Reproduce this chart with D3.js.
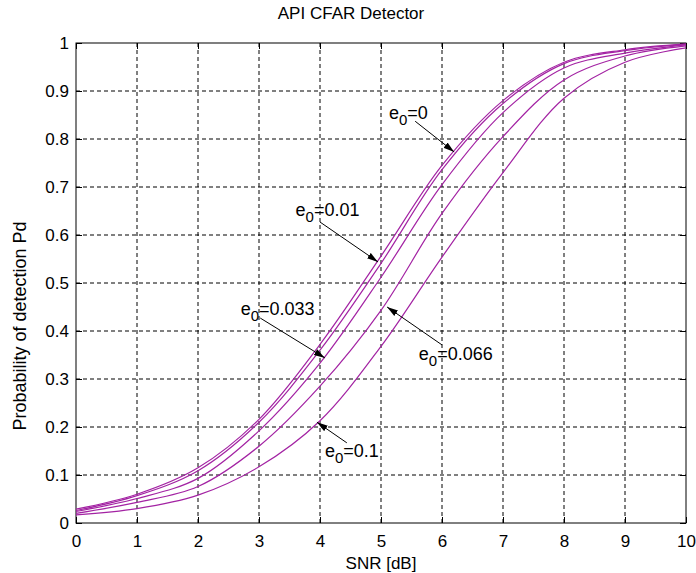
<!DOCTYPE html>
<html>
<head>
<meta charset="utf-8">
<script src="https://cdn.jsdelivr.net/npm/d3@7"></script>
<style>
  body { margin: 0; background: #fff; }
  svg text { font-family: "Liberation Sans", Arial, sans-serif; fill: #000; }
</style>
</head>
<body>
<div id="chart"></div>
<script>
// SNR points (dB) and Pd, one array per curve
const snr = [0, 1, 2, 3, 4, 5, 6, 7, 8, 9, 10];
const pdE0_000 = [0.029, 0.060, 0.115, 0.216, 0.372, 0.556, 0.745, 0.880, 0.960, 0.986, 0.998];
const pdE0_010 = [0.026, 0.057, 0.109, 0.210, 0.360, 0.541, 0.736, 0.874, 0.957, 0.984, 0.997];
const pdE0_033 = [0.024, 0.051, 0.093, 0.192, 0.333, 0.512, 0.705, 0.855, 0.948, 0.979, 0.996];
const pdE0_066 = [0.020, 0.043, 0.076, 0.160, 0.285, 0.443, 0.645, 0.805, 0.923, 0.973, 0.994];
const pdE0_100 = [0.017, 0.030, 0.058, 0.117, 0.213, 0.368, 0.554, 0.730, 0.885, 0.960, 0.990];

const xTicks = [0, 1, 2, 3, 4, 5, 6, 7, 8, 9, 10];
const yTicks = [0, 0.1, 0.2, 0.3, 0.4, 0.5, 0.6, 0.7, 0.8, 0.9, 1];

// annotation labels: value text, label anchor, arrow start and arrow tip (data units)
const noteText = ['0', '0.01', '0.033', '0.066', '0.1'];
const noteLabel = [[5.13, 0.842], [3.60, 0.640], [2.70, 0.433], [5.62, 0.340], [4.08, 0.1375]];
const noteFrom = [[5.56, 0.837], [4.00, 0.627], [3.02, 0.427], [6.00, 0.371], [4.44, 0.167]];
const noteTip = [[6.20, 0.773], [4.95, 0.544], [4.08, 0.344], [5.10, 0.450], [3.95, 0.210]];

const w = 696, h = 573;
const mLeft = 76, mRight = 686, mTop = 43, mBottom = 523;
const lineColor = '#a323a3';

const svg = d3.select('#chart').append('svg')
  .attr('width', w)
  .attr('height', h);

const x = d3.scaleLinear().domain([0, 10]).range([mLeft, mRight]);
const y = d3.scaleLinear().domain([0, 1]).range([mBottom, mTop]);

// dashed grid
svg.append('g').selectAll('line')
  .data(xTicks.slice(1, -1))
  .join('line')
  .attr('x1', d => x(d)).attr('x2', d => x(d))
  .attr('y1', mTop).attr('y2', mBottom)
  .attr('stroke', '#000').attr('stroke-dasharray', '4,3');

svg.append('g').selectAll('line')
  .data(yTicks.slice(1, -1))
  .join('line')
  .attr('x1', mLeft).attr('x2', mRight)
  .attr('y1', d => y(d)).attr('y2', d => y(d))
  .attr('stroke', '#000').attr('stroke-dasharray', '4,3');

// axes (ticks pointing inward, matlab style)
const xAxis = d3.axisBottom(x).tickValues(xTicks).tickSize(-6).tickPadding(12).tickFormat(d3.format('d'));
const yAxis = d3.axisLeft(y).tickValues(yTicks).tickSize(-6).tickPadding(7).tickFormat(d => d === 0 || d === 1 ? d : d.toFixed(1));

svg.append('g')
  .attr('transform', `translate(0,${mBottom})`)
  .call(xAxis)
  .call(g => g.select('.domain').remove());

svg.append('g')
  .attr('transform', `translate(${mLeft},0)`)
  .call(yAxis)
  .call(g => g.select('.domain').remove());

svg.append('g')
  .attr('transform', `translate(0,${mTop})`)
  .call(d3.axisTop(x).tickValues(xTicks).tickSize(-6).tickFormat(''))
  .call(g => g.select('.domain').remove());

svg.append('g')
  .attr('transform', `translate(${mRight},0)`)
  .call(d3.axisRight(y).tickValues(yTicks).tickSize(-6).tickFormat(''))
  .call(g => g.select('.domain').remove());

svg.selectAll('.tick text')
  .attr('font-size', '17px')
  .attr('font-family', '"Liberation Sans", Arial, sans-serif');

// plot box
svg.append('rect')
  .attr('x', mLeft).attr('y', mTop)
  .attr('width', mRight - mLeft).attr('height', mBottom - mTop)
  .attr('fill', 'none').attr('stroke', '#000');

// curves
const series = [pdE0_000, pdE0_010, pdE0_033, pdE0_066, pdE0_100];
const line = d3.line()
  .x((d, i) => x(snr[i]))
  .y(d => y(d))
  .curve(d3.curveCatmullRom.alpha(0.5));

svg.append('g').selectAll('path')
  .data(series)
  .join('path')
  .attr('d', line)
  .attr('fill', 'none')
  .attr('stroke', lineColor)
  .attr('stroke-width', 1.2);

// arrows
svg.append('defs').append('marker')
  .attr('id', 'arrow')
  .attr('viewBox', '0 0 10 6')
  .attr('refX', 10).attr('refY', 3)
  .attr('markerWidth', 11).attr('markerHeight', 7)
  .attr('markerUnits', 'userSpaceOnUse')
  .attr('orient', 'auto')
  .append('path')
  .attr('d', 'M0,0 L10,3 L0,6 Z')
  .attr('fill', '#000');

svg.append('g').selectAll('line')
  .data(noteText)
  .join('line')
  .attr('x1', (d, i) => x(noteFrom[i][0]))
  .attr('y1', (d, i) => y(noteFrom[i][1]))
  .attr('x2', (d, i) => x(noteTip[i][0]))
  .attr('y2', (d, i) => y(noteTip[i][1]))
  .attr('stroke', '#000')
  .attr('stroke-width', 1)
  .attr('marker-end', 'url(#arrow)');

const notes = svg.append('g').selectAll('text')
  .data(noteText)
  .join('text')
  .attr('x', (d, i) => x(noteLabel[i][0]))
  .attr('y', (d, i) => y(noteLabel[i][1]))
  .attr('font-size', '18px');

notes.append('tspan').text('e');
notes.append('tspan').attr('dy', 6).attr('font-size', '15px').text('0');
notes.append('tspan').attr('dy', -6).text(d => '=' + d);

// title and axis labels
svg.append('text')
  .attr('x', 351).attr('y', 19)
  .attr('text-anchor', 'middle')
  .attr('font-size', '17px')
  .text('API CFAR Detector');

svg.append('text')
  .attr('x', (mLeft + mRight) / 2).attr('y', 569)
  .attr('text-anchor', 'middle')
  .attr('font-size', '17px')
  .text('SNR [dB]');

svg.append('text')
  .attr('transform', `translate(26,326) rotate(-90)`)
  .attr('text-anchor', 'middle')
  .attr('font-size', '18px')
  .text('Probability of detection Pd');
</script>
</body>
</html>
